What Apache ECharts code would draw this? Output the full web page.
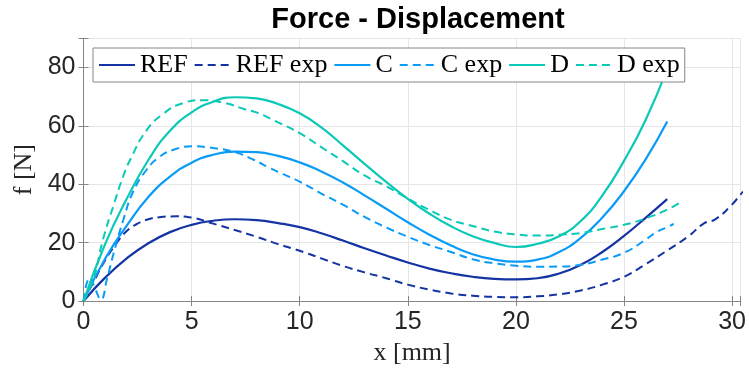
<!DOCTYPE html>
<html>
<head>
<meta charset="utf-8">
<script src="https://cdn.jsdelivr.net/npm/echarts@6/dist/echarts.min.js"></script>
<style>
  html, body { margin: 0; padding: 0; background: #ffffff; }
  #chart { width: 749px; height: 376px; }
</style>
</head>
<body>
<div id="chart"></div>
<script>
// model curves are sampled at whole millimetres
const modelX = [0, 1, 2, 3, 4, 5, 6, 7, 8, 9, 10, 11, 12, 13, 14, 15, 16, 17, 18, 19, 20, 21, 22, 23, 24, 25, 26, 27];
const refModel = [0, 8.0, 14.6, 19.8, 23.6, 26.1, 27.5, 28.0, 27.7, 26.7, 25.3, 23.2, 20.7, 18.1, 15.6, 13.2, 11.1, 9.5, 8.3, 7.6, 7.4, 7.8, 9.4, 12.4, 16.8, 22.3, 28.5, 34.9];
const cModel = [0, 14.5, 25.8, 35.6, 42.6, 47.4, 50.1, 51.2, 51.0, 49.7, 47.5, 44.4, 40.6, 36.2, 31.6, 27.0, 22.7, 19.0, 16.0, 14.2, 13.5, 14.2, 16.8, 21.6, 28.6, 37.6, 48.5, 61.5];
const dModel = [0, 19.5, 35.0, 48.3, 58.3, 64.6, 68.3, 69.8, 69.4, 67.5, 64.3, 59.5, 53.3, 47.0, 40.8, 35.0, 29.9, 25.6, 22.2, 19.9, 18.5, 19.6, 22.2, 27.4, 36.2, 48.0, 62.0, 79.5];

// experimental curves: [x, f] pairs
const refExp = [[0, 0], [0.5, 7], [1, 14], [1.5, 19.5], [2, 24], [2.5, 26.5], [3, 28], [3.5, 28.7], [4.3, 29], [5, 28.6], [6, 26.5], [7, 24.3], [8, 22], [9, 19.5], [10, 17.2], [11, 14.6], [12, 12.0], [13, 9.8], [14, 7.8], [15, 5.6], [16, 3.9], [17, 2.6], [18, 1.8], [19, 1.4], [20, 1.3], [21, 1.6], [22, 2.3], [23, 3.6], [24, 5.6], [25, 8.3], [26, 12.6], [27, 17.3], [28, 22.3], [28.7, 26.6], [29.2, 27.9], [29.9, 32.3], [30.5, 37.5]];
const cExp = [[0, 0], [0.3, 8], [0.55, 4], [0.8, 0.5], [1.1, 8], [1.4, 16.5], [1.85, 28], [2.3, 37.5], [2.9, 44.8], [3.5, 49.3], [4.2, 51.9], [5, 53], [6, 52.4], [7, 51], [7.9, 48.3], [8.6, 45.6], [9.2, 43.6], [10, 40.9], [11, 36.8], [12, 33], [13, 28.8], [14, 25.2], [15, 22], [16, 19.2], [17, 16.8], [18, 14.3], [19, 12.9], [20, 12.1], [21, 11.7], [22, 11.8], [23, 12.4], [24, 14.2], [25, 16.5], [26, 21.0], [26.5, 23.6], [27, 25.3], [27.3, 26.4]];
const dExp = [[0, 0], [0.45, 7.2], [0.9, 21], [1.4, 33], [1.85, 43], [2.2, 49], [2.9, 58.3], [3.7, 64.2], [4.6, 67.8], [5.5, 68.8], [6.5, 67.9], [7.5, 65.6], [8, 64.6], [9, 61.2], [10, 57.5], [11, 52.7], [12, 47.9], [13, 43.0], [14, 39.3], [15, 35.1], [16, 31.2], [17, 27.8], [18, 25.7], [19, 23.8], [20, 22.8], [21, 22.4], [22, 22.7], [23, 23.3], [24, 24.7], [25, 26.1], [26, 28.3], [27, 31.3], [27.65, 34]];

const xTicks = [0, 5, 10, 15, 20, 25, 30];
const yTicks = [0, 20, 40, 60, 80];

const REF_COLOR = "#1434a4";
const C_COLOR = "#0a9bf7";
const D_COLOR = "#0cc8b6";
const FRAME = "#868686";
const GRID_LINE = "#e6e6e6";
const TEXT = "#262626";

const chart = echarts.init(document.getElementById("chart"), null, { renderer: "canvas" });

function pairs(xs, ys) {
  return xs.map((x, i) => [x, ys[i]]);
}

function curve(name, data, color, dashed) {
  return {
    name,
    type: "line",
    data,
    smooth: 0.5,
    symbol: "none",
    clip: true,
    lineStyle: {
      color,
      width: dashed ? 2 : 2.2,
      type: dashed ? [8, 5] : "solid",
    },
    itemStyle: { color },
  };
}

function tickLabel(v, ticks) {
  return ticks.indexOf(v) >= 0 ? String(v) : "";
}

const axisFrame = {
  axisLine: { show: true, lineStyle: { color: FRAME, width: 1 } },
  axisTick: { show: true, inside: true, length: 5, lineStyle: { color: FRAME } },
};

const option = {
  animation: false,
  backgroundColor: "#ffffff",
  title: {
    text: "Force - Displacement",
    left: 413,
    top: 0,
    textAlign: "center",
    textStyle: { fontFamily: "Liberation Sans", fontWeight: "bold", fontSize: 29, color: "#000000" },
  },
  legend: {
    left: 93,
    top: 48,
    orient: "horizontal",
    padding: [4, 5],
    itemWidth: 36,
    itemHeight: 14,
    itemGap: 6,
    backgroundColor: "#ffffff",
    borderColor: FRAME,
    borderWidth: 1,
    itemStyle: { opacity: 0 },
    textStyle: { fontFamily: "Liberation Serif", fontSize: 26, color: "#000000", lineHeight: 26 },
    data: ["REF", "REF exp", "C", "C exp", "D", "D exp"],
  },
  grid: { left: 83.5, right: 7.3, top: 38.3, bottom: 75, show: false },
  xAxis: [
    {
      type: "value",
      min: 0,
      max: 30.4,
      interval: 5,
      ...axisFrame,
      splitLine: { show: true, lineStyle: { color: GRID_LINE } },
      axisLabel: {
        color: TEXT,
        fontFamily: "Liberation Sans",
        fontSize: 25,
        margin: 9,
        formatter: (v) => tickLabel(v, xTicks),
      },
      name: "x [mm]",
      nameLocation: "middle",
      nameGap: 39,
      nameTextStyle: { fontFamily: "Liberation Serif", fontSize: 26, color: TEXT },
    },
    {
      type: "value",
      position: "top",
      min: 0,
      max: 30.4,
      interval: 5,
      ...axisFrame,
      splitLine: { show: false },
      axisLabel: { show: false },
    },
  ],
  yAxis: [
    {
      type: "value",
      min: 0,
      max: 90,
      interval: 20,
      ...axisFrame,
      splitLine: { show: true, lineStyle: { color: GRID_LINE } },
      axisLabel: {
        color: TEXT,
        fontFamily: "Liberation Sans",
        fontSize: 25,
        margin: 8,
        formatter: (v) => tickLabel(v, yTicks),
      },
      name: "f [N]",
      nameLocation: "middle",
      nameGap: 46,
      nameTextStyle: { fontFamily: "Liberation Serif", fontSize: 26, color: TEXT },
    },
    {
      type: "value",
      position: "right",
      min: 0,
      max: 90,
      interval: 20,
      ...axisFrame,
      splitLine: { show: false },
      axisLabel: { show: false },
    },
  ],
  series: [
    curve("REF", pairs(modelX, refModel), REF_COLOR, false),
    curve("REF exp", refExp, REF_COLOR, true),
    curve("C", pairs(modelX, cModel), C_COLOR, false),
    curve("C exp", cExp, C_COLOR, true),
    curve("D", pairs(modelX, dModel), D_COLOR, false),
    curve("D exp", dExp, D_COLOR, true),
  ],
};

chart.setOption(option);
</script>
</body>
</html>
